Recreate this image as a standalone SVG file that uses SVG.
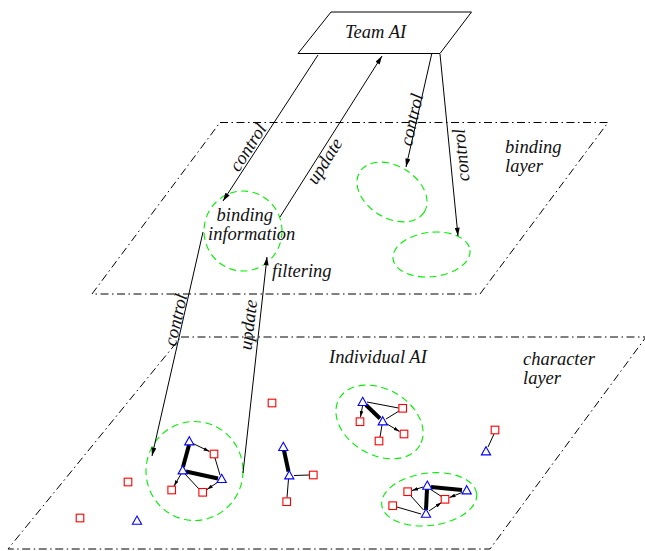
<svg xmlns="http://www.w3.org/2000/svg" xmlns:xlink="http://www.w3.org/1999/xlink" width="645" height="551" viewBox="0 0 645 551">
  <style>
    .layer { fill: none; stroke: #000; stroke-width: 1; stroke-dasharray: 8 3.5 1.5 3.5; }
    .group { fill: none; stroke: #00f000; stroke-width: 1.1; stroke-dasharray: 7 4.5; }
    .flow { fill: none; stroke: #000; stroke-width: 1; }
    .link { fill: none; stroke: #000; stroke-width: 1; }
    .bond { fill: none; stroke: #000; stroke-width: 4; }
    .tri { fill: #fff; stroke: #0000ff; stroke-width: 1.1; }
    .sq { fill: #fff; stroke: #ff0000; stroke-width: 1.1; }
    text { font-family: "Liberation Serif", "Times New Roman", serif; font-style: italic; font-size: 18.5px; fill: #111; }
    .mid { text-anchor: middle; }
  </style>
  <defs>
    <marker id="head" viewBox="0 0 10 6" refX="10" refY="3" markerWidth="9" markerHeight="5" markerUnits="userSpaceOnUse" orient="auto">
      <path d="M0,0 L10,3 L0,6 Z" fill="#000"/>
    </marker>
    <marker id="head-s" viewBox="0 0 10 6" refX="10" refY="3" markerWidth="6" markerHeight="4" markerUnits="userSpaceOnUse" orient="auto">
      <path d="M0,0 L10,3 L0,6 Z" fill="#000"/>
    </marker>
    <path id="tri" d="M0,-5 L4.6,3.2 L-4.6,3.2 Z"/>
  </defs>

  <!-- layer planes -->
  <g id="binding-layer">
    <polygon class="layer" points="220,122.5 608,122.5 480,294 92,294"/>
    <text x="505" y="153">binding</text>
    <text x="505" y="172">layer</text>
  </g>
  <g id="character-layer">
    <polygon class="layer" points="181,337 646,337 490,549 8,549"/>
    <text x="523" y="365">character</text>
    <text x="523" y="384">layer</text>
    <text x="329" y="363">Individual AI</text>
  </g>

  <!-- groupings in the binding layer -->
  <g id="binding-information">
    <ellipse class="group" cx="243" cy="231" rx="39" ry="40"/>
    <text x="216.5" y="221">binding</text>
    <text x="208" y="239.5">information</text>
  </g>
  <g id="binding-b">
    <ellipse class="group" cx="392" cy="192" rx="38" ry="26" transform="rotate(32 392 192)"/>
  </g>
  <g id="binding-c">
    <ellipse class="group" cx="431.5" cy="254.5" rx="38.7" ry="22.2" transform="rotate(-6.5 431.5 254.5)"/>
  </g>

  <!-- groupings in the character layer -->
  <g id="cluster-a"><ellipse class="group" cx="194.5" cy="471" rx="48.5" ry="49.5"/></g>
  <g id="cluster-b"><ellipse class="group" cx="379.5" cy="422" rx="46.6" ry="33" transform="rotate(30 379.5 422)"/></g>
  <g id="cluster-c"><ellipse class="group" cx="429.2" cy="499.3" rx="47.8" ry="26.2" transform="rotate(-7 429.2 499.3)"/></g>

  <!-- connectors -->
  <g id="connectors">
    <!-- between the layers -->
    <path class="flow" d="M318,55 L223,201" marker-end="url(#head)"/>
    <path class="flow" d="M280,217 L382,56" marker-end="url(#head)"/>
    <path class="flow" d="M431.7,54 L406,167" marker-end="url(#head)"/>
    <path class="flow" d="M440,54 L458,236" marker-end="url(#head)"/>
    <path class="flow" d="M203,232 L152,456" marker-end="url(#head)"/>
    <path class="flow" d="M243,473 L267,257" marker-end="url(#head)"/>

    <!-- cluster a -->
    <path class="bond" d="M189,445 L183,467"/>
    <path class="bond" d="M186,471.5 L218,478.5"/>
    <path class="link" d="M193,443.5 L209.5,451.5" marker-end="url(#head-s)"/>
    <path class="link" d="M215,458 L220,475"/>
    <path class="link" d="M181,474 L174,486" marker-end="url(#head-s)"/>
    <path class="link" d="M185,474 L199,489"/>
    <path class="link" d="M218,482 L207,489.5" marker-end="url(#head-s)"/>

    <!-- pair in the middle -->
    <path class="bond" d="M284,450.5 L288.5,471.5"/>
    <path class="link" d="M294,475.5 L309,475"/>
    <path class="link" d="M288.5,479 L287,497.5"/>

    <!-- cluster b -->
    <path class="bond" d="M366,405 L380,418.5"/>
    <path class="link" d="M367,402 L398.5,408"/>
    <path class="link" d="M362.5,406 L360.5,417" marker-end="url(#head-s)"/>
    <path class="link" d="M386,419 L399,411"/>
    <path class="link" d="M387,424 L399.5,431.5" marker-end="url(#head-s)"/>
    <path class="link" d="M382,425 L380,437"/>

    <!-- cluster c -->
    <path class="bond" d="M431,487 L462,490"/>
    <path class="bond" d="M427,489 L426,510"/>
    <path class="link" d="M423,487 L412,490.5" marker-end="url(#head-s)"/>
    <path class="link" d="M462,492.5 L449.5,497.5" marker-end="url(#head-s)"/>
    <path class="link" d="M430,489 L441.5,496.5"/>
    <path class="link" d="M423.5,510 L410.5,495.5"/>
    <path class="link" d="M429,511 L441.5,502.5" marker-end="url(#head-s)"/>
    <path class="link" d="M397,507 L421,514"/>

    <!-- lone pair on the right -->
    <path class="link" d="M494,434 L488,447"/>
  </g>

  <!-- connector labels -->
  <g id="flow-labels">
    <text class="mid" transform="translate(254.7,151.6) rotate(-57.3)" y="-2">control</text>
    <text class="mid" transform="translate(317.9,156.8) rotate(-57.8)" y="14">update</text>
    <text class="mid" transform="translate(416.5,120.8) rotate(-77.2)" y="1">control</text>
    <text class="mid" transform="translate(450.1,156.2) rotate(-95.6)" y="17">control</text>
    <text class="mid" transform="translate(182.6,321.4) rotate(-77.2)" y="-1">control</text>
    <text class="mid" transform="translate(259.3,326) rotate(-83.7)" y="-5">update</text>
    <text x="272" y="277">filtering</text>
  </g>

  <!-- team level -->
  <g id="team-ai">
    <polygon points="331,12 471.5,12 440,53.5 298,53.5" fill="#fff" stroke="#000" stroke-width="1"/>
    <text x="345" y="38">Team AI</text>
  </g>

  <!-- agents: triangles and squares -->
  <g id="a-t1"><use xlink:href="#tri" class="tri" x="189.3" y="441.7"/></g>
  <g id="a-s1"><rect class="sq" x="210.2" y="450.2" width="7.6" height="7.6"/></g>
  <g id="a-t2"><use xlink:href="#tri" class="tri" x="182.7" y="470.7"/></g>
  <g id="a-t3"><use xlink:href="#tri" class="tri" x="221.7" y="479.3"/></g>
  <g id="a-s2"><rect class="sq" x="167.9" y="486.2" width="7.6" height="7.6"/></g>
  <g id="a-s3"><rect class="sq" x="198.9" y="488.5" width="7.6" height="7.6"/></g>

  <g id="m-t1"><use xlink:href="#tri" class="tri" x="283.3" y="447.3"/></g>
  <g id="m-t2"><use xlink:href="#tri" class="tri" x="289.3" y="475.7"/></g>
  <g id="m-s1"><rect class="sq" x="309.5" y="471.2" width="7.6" height="7.6"/></g>
  <g id="m-s2"><rect class="sq" x="282.9" y="497.9" width="7.6" height="7.6"/></g>

  <g id="b-t1"><use xlink:href="#tri" class="tri" x="362.7" y="402.3"/></g>
  <g id="b-s1"><rect class="sq" x="398.9" y="404.5" width="7.6" height="7.6"/></g>
  <g id="b-s2"><rect class="sq" x="356.2" y="417.9" width="7.6" height="7.6"/></g>
  <g id="b-t2"><use xlink:href="#tri" class="tri" x="382.7" y="421.7"/></g>
  <g id="b-s3"><rect class="sq" x="400.2" y="430.2" width="7.6" height="7.6"/></g>
  <g id="b-s4"><rect class="sq" x="375.2" y="437.2" width="7.6" height="7.6"/></g>

  <g id="c-t1"><use xlink:href="#tri" class="tri" x="427.3" y="486"/></g>
  <g id="c-t2"><use xlink:href="#tri" class="tri" x="466.7" y="490.7"/></g>
  <g id="c-s1"><rect class="sq" x="403.9" y="487.9" width="7.6" height="7.6"/></g>
  <g id="c-s2"><rect class="sq" x="441.2" y="495.5" width="7.6" height="7.6"/></g>
  <g id="c-s3"><rect class="sq" x="388.9" y="501.9" width="7.6" height="7.6"/></g>
  <g id="c-t3"><use xlink:href="#tri" class="tri" x="426" y="514"/></g>

  <g id="r-s1"><rect class="sq" x="491.2" y="426.2" width="7.6" height="7.6"/></g>
  <g id="r-t1"><use xlink:href="#tri" class="tri" x="486" y="451.7"/></g>

  <g id="lone-s1"><rect class="sq" x="124.2" y="478.2" width="7.6" height="7.6"/></g>
  <g id="lone-s2"><rect class="sq" x="76.2" y="514.2" width="7.6" height="7.6"/></g>
  <g id="lone-s3"><rect class="sq" x="268.2" y="399.2" width="7.6" height="7.6"/></g>
  <g id="lone-t1"><use xlink:href="#tri" class="tri" x="137" y="521"/></g>
</svg>
